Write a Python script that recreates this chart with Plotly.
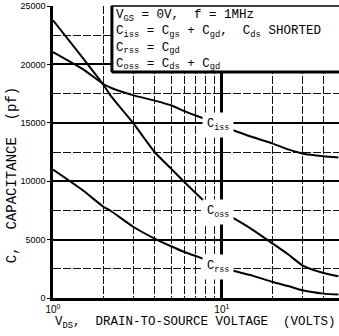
import plotly.graph_objects as go
import numpy as np

vds = [1, 1.5, 2, 2.2, 3, 4, 5, 6, 8, 10, 12, 15, 20, 25, 30, 40, 49]
ciss = [21060, 19600, 18300, 18000, 17350, 16900, 16500, 16000, 15300, 14700, 14300, 13800, 13220, 12700, 12380, 12130, 12020]
coss = [23780, 20550, 18210, 17300, 14930, 12500, 11080, 9930, 8220, 7400, 6750, 5900, 4660, 3680, 2800, 2140, 1860]
crss = [10990, 9220, 7790, 7450, 6080, 5085, 4430, 3940, 3290, 2700, 2290, 1940, 1370, 1000, 660, 375, 300]

curve_labels = ["C<sub>iss</sub>", "C<sub>oss</sub>", "C<sub>rss</sub>"]
label_x = [9.5, 9.5, 9.5]
label_y = [14790, 7360, 2650]

x_ticks = [1, 10]
x_ticktext = ["10<sup>0</sup>", "10<sup>1</sup>"]
x_minor = [2, 3, 4, 5, 6, 7, 8, 9, 20, 30, 40]
y_ticks = [0, 5000, 10000, 15000, 20000, 25000]
y_ticktext = ["0", "5000", "10000", "15000", "20000", "25000"]

note_lines = [
    "V<sub>GS</sub> = 0V,  f = 1MHz",
    "C<sub>iss</sub> = C<sub>gs</sub> + C<sub>gd</sub>,  C<sub>ds</sub> SHORTED",
    "C<sub>rss</sub> = C<sub>gd</sub>",
    "C<sub>oss</sub> = C<sub>ds</sub> + C<sub>gd</sub>",
]

mono = "Liberation Mono"
fig = go.Figure()
for ys in (ciss, coss, crss):
    fig.add_trace(go.Scatter(x=vds, y=ys, mode="lines", line=dict(color="black", width=2, shape="spline", smoothing=0.6),
                             hoverinfo="skip", showlegend=False))

for t, lx, ly in zip(curve_labels, label_x, label_y):
    fig.add_annotation(x=np.log10(lx), y=ly, xref="x", yref="y", text=t, showarrow=False,
                       font=dict(family=mono, size=12, color="black"), bgcolor="white", borderpad=4)

fig.update_layout(
    width=339, height=336, margin=dict(l=53, r=0, t=6, b=38, autoexpand=False),
    paper_bgcolor="white", plot_bgcolor="white", showlegend=False,
    xaxis=dict(type="log", range=[0, np.log10(49.4)], tickmode="array", tickvals=x_ticks, ticktext=x_ticktext,
               automargin=False, showgrid=True, gridcolor="black", gridwidth=2.5,
               minor=dict(tickmode="array", tickvals=x_minor, showgrid=True, gridcolor="#111", gridwidth=1, griddash="8px,2px", ticks=""),
               showline=True, linecolor="black", linewidth=2.5, ticks="", zeroline=False,
               tickfont=dict(family="Liberation Sans", size=10, color="black")),
    yaxis=dict(range=[0, 25000], tickmode="array", tickvals=y_ticks, ticktext=y_ticktext, automargin=False,
               showgrid=True, gridcolor="black", gridwidth=2.2,
               minor=dict(dtick=2500, tick0=0, showgrid=True, gridcolor="#111", gridwidth=1, griddash="8px,2px"),
               showline=True, linecolor="black", linewidth=2.5, ticks="outside", ticklen=3, tickcolor="black",
               zeroline=False, tickfont=dict(family="Liberation Sans", size=9, color="black")),
)

# note box
fig.add_shape(type="rect", xref="paper", yref="paper", x0=0.206, x1=1.02, y0=0.774, y1=1.0,
              fillcolor="white", line=dict(color="black", width=1.5), layer="above")
fig.add_shape(type="line", xref="paper", yref="paper", x0=0.206, x1=0.206, y0=0.774, y1=1.0,
              line=dict(color="black", width=3), layer="above")
fig.add_shape(type="line", xref="paper", yref="paper", x0=0.206, x1=1.02, y0=0.774, y1=0.774,
              line=dict(color="black", width=3), layer="above")
fig.add_annotation(xref="paper", yref="paper", x=0.215, y=1.0, xanchor="left", yanchor="top",
                   text="<br>".join(note_lines), showarrow=False, align="left",
                   font=dict(family=mono, size=12.5, color="black"))

# axis titles
fig.add_annotation(xref="paper", yref="paper", x=0.497, y=-0.05, xanchor="center", yanchor="top",
                   text="V<sub>DS</sub>,  DRAIN-TO-SOURCE VOLTAGE  (VOLTS)", showarrow=False,
                   font=dict(family=mono, size=12.5, color="black"))
fig.add_annotation(xref="paper", yref="paper", x=-0.143, y=0.421, xanchor="center", yanchor="middle",
                   text="C,  CAPACITANCE  (pf)", textangle=-90, showarrow=False,
                   font=dict(family=mono, size=14, color="black"))

fig.write_html("out.html", config={"displayModeBar": False},
               post_script="document.body.style.margin='0px';")
